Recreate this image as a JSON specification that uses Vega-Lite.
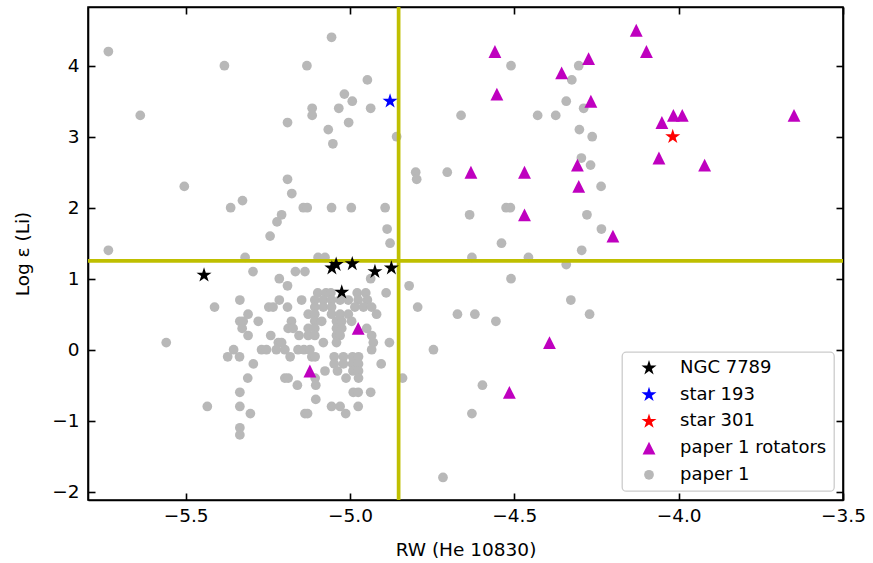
{
  "$schema": "https://vega.github.io/schema/vega-lite/v6.json",
  "width": 755,
  "height": 493,
  "autosize": "none",
  "padding": {"left": 88, "top": 7, "right": 30, "bottom": 63},
  "background": "white",
  "config": {
    "font": "DejaVu Sans",
    "view": {"stroke": "black", "strokeWidth": 1.6},
    "axis": {
      "domainColor": "black", "domainWidth": 1.6,
      "tickColor": "black", "tickWidth": 1.6, "tickSize": -7,
      "grid": false, "labelFont": "DejaVu Sans", "labelFontSize": 18.5, "labelColor": "black",
      "titleFont": "DejaVu Sans", "titleFontSize": 18.5, "titleFontWeight": "normal", "titleColor": "black",
      "labelFlush": false, "labelOverlap": false
    },
    "legend": {
      "padding": 7, "rowPadding": 8.7, "symbolOffset": 11, "labelOffset": 22,
      "labelFont": "DejaVu Sans", "labelFontSize": 18, "labelColor": "black", "labelLimit": 400,
      "fillColor": "rgba(255,255,255,0.8)", "strokeColor": "#cccccc", "strokeWidth": 1.3, "cornerRadius": 4,
      "symbolStrokeWidth": 0, "symbolOpacity": 1
    }
  },
  "data": {"values": [
    {"rw": -5.735, "li": 4.2, "s": "paper 1"}, {"rw": -5.382, "li": 4.0, "s": "paper 1"}, {"rw": -5.131, "li": 4.0, "s": "paper 1"},
    {"rw": -5.056, "li": 4.4, "s": "paper 1"}, {"rw": -4.947, "li": 3.8, "s": "paper 1"}, {"rw": -5.017, "li": 3.6, "s": "paper 1"},
    {"rw": -4.993, "li": 3.5, "s": "paper 1"}, {"rw": -5.115, "li": 3.4, "s": "paper 1"}, {"rw": -5.115, "li": 3.3, "s": "paper 1"},
    {"rw": -5.034, "li": 3.4, "s": "paper 1"}, {"rw": -4.937, "li": 3.4, "s": "paper 1"}, {"rw": -5.638, "li": 3.3, "s": "paper 1"},
    {"rw": -5.19, "li": 3.2, "s": "paper 1"}, {"rw": -5.004, "li": 3.2, "s": "paper 1"}, {"rw": -5.066, "li": 3.1, "s": "paper 1"},
    {"rw": -5.052, "li": 2.9, "s": "paper 1"}, {"rw": -4.858, "li": 3.0, "s": "paper 1"}, {"rw": -5.504, "li": 2.3, "s": "paper 1"},
    {"rw": -5.19, "li": 2.4, "s": "paper 1"}, {"rw": -5.177, "li": 2.2, "s": "paper 1"}, {"rw": -5.363, "li": 2.0, "s": "paper 1"},
    {"rw": -5.327, "li": 2.1, "s": "paper 1"}, {"rw": -5.142, "li": 2.0, "s": "paper 1"}, {"rw": -5.13, "li": 2.0, "s": "paper 1"},
    {"rw": -5.056, "li": 2.0, "s": "paper 1"}, {"rw": -4.996, "li": 2.0, "s": "paper 1"}, {"rw": -4.893, "li": 2.0, "s": "paper 1"},
    {"rw": -5.208, "li": 1.9, "s": "paper 1"}, {"rw": -5.222, "li": 1.8, "s": "paper 1"}, {"rw": -5.243, "li": 1.6, "s": "paper 1"},
    {"rw": -4.887, "li": 1.7, "s": "paper 1"}, {"rw": -4.878, "li": 1.5, "s": "paper 1"}, {"rw": -5.735, "li": 1.4, "s": "paper 1"},
    {"rw": -4.51, "li": 4.0, "s": "paper 1"}, {"rw": -4.304, "li": 4.0, "s": "paper 1"}, {"rw": -4.325, "li": 3.8, "s": "paper 1"},
    {"rw": -4.342, "li": 3.5, "s": "paper 1"}, {"rw": -4.289, "li": 3.4, "s": "paper 1"}, {"rw": -4.662, "li": 3.3, "s": "paper 1"},
    {"rw": -4.429, "li": 3.3, "s": "paper 1"}, {"rw": -4.374, "li": 3.3, "s": "paper 1"}, {"rw": -4.302, "li": 3.1, "s": "paper 1"},
    {"rw": -4.263, "li": 3.0, "s": "paper 1"}, {"rw": -4.296, "li": 2.7, "s": "paper 1"}, {"rw": -4.268, "li": 2.6, "s": "paper 1"},
    {"rw": -4.8, "li": 2.5, "s": "paper 1"}, {"rw": -4.797, "li": 2.4, "s": "paper 1"}, {"rw": -4.704, "li": 2.5, "s": "paper 1"},
    {"rw": -4.236, "li": 2.3, "s": "paper 1"}, {"rw": -4.525, "li": 2.0, "s": "paper 1"}, {"rw": -4.512, "li": 2.0, "s": "paper 1"},
    {"rw": -4.636, "li": 1.9, "s": "paper 1"}, {"rw": -4.279, "li": 1.9, "s": "paper 1"}, {"rw": -4.235, "li": 1.7, "s": "paper 1"},
    {"rw": -4.539, "li": 1.5, "s": "paper 1"}, {"rw": -4.295, "li": 1.4, "s": "paper 1"}, {"rw": -4.629, "li": 1.3, "s": "paper 1"},
    {"rw": -4.457, "li": 1.3, "s": "paper 1"}, {"rw": -4.342, "li": 1.2, "s": "paper 1"}, {"rw": -4.51, "li": 1.0, "s": "paper 1"},
    {"rw": -4.82, "li": 0.9, "s": "paper 1"}, {"rw": -4.328, "li": 0.7, "s": "paper 1"}, {"rw": -4.794, "li": 0.6, "s": "paper 1"},
    {"rw": -4.673, "li": 0.5, "s": "paper 1"}, {"rw": -4.62, "li": 0.5, "s": "paper 1"}, {"rw": -4.556, "li": 0.4, "s": "paper 1"},
    {"rw": -4.271, "li": 0.5, "s": "paper 1"}, {"rw": -4.746, "li": 0.0, "s": "paper 1"}, {"rw": -4.84, "li": -0.4, "s": "paper 1"},
    {"rw": -4.597, "li": -0.5, "s": "paper 1"}, {"rw": -4.629, "li": -0.9, "s": "paper 1"}, {"rw": -4.717, "li": -1.8, "s": "paper 1"},
    {"rw": -5.319, "li": 1.3, "s": "paper 1"}, {"rw": -5.097, "li": 1.3, "s": "paper 1"}, {"rw": -5.076, "li": 1.3, "s": "paper 1"},
    {"rw": -5.295, "li": 1.1, "s": "paper 1"}, {"rw": -5.166, "li": 1.1, "s": "paper 1"}, {"rw": -5.137, "li": 1.1, "s": "paper 1"},
    {"rw": -5.215, "li": 1.0, "s": "paper 1"}, {"rw": -4.937, "li": 1.0, "s": "paper 1"}, {"rw": -5.19, "li": 0.9, "s": "paper 1"},
    {"rw": -5.098, "li": 0.8, "s": "paper 1"}, {"rw": -5.073, "li": 0.8, "s": "paper 1"}, {"rw": -5.058, "li": 0.8, "s": "paper 1"},
    {"rw": -4.978, "li": 0.8, "s": "paper 1"}, {"rw": -4.952, "li": 0.8, "s": "paper 1"}, {"rw": -4.89, "li": 0.8, "s": "paper 1"},
    {"rw": -5.335, "li": 0.7, "s": "paper 1"}, {"rw": -5.215, "li": 0.7, "s": "paper 1"}, {"rw": -5.147, "li": 0.7, "s": "paper 1"},
    {"rw": -5.107, "li": 0.7, "s": "paper 1"}, {"rw": -5.081, "li": 0.7, "s": "paper 1"}, {"rw": -5.056, "li": 0.7, "s": "paper 1"},
    {"rw": -5.03, "li": 0.7, "s": "paper 1"}, {"rw": -5.005, "li": 0.7, "s": "paper 1"}, {"rw": -4.975, "li": 0.7, "s": "paper 1"},
    {"rw": -4.947, "li": 0.7, "s": "paper 1"},
    {"rw": -5.412, "li": 0.6, "s": "paper 1"}, {"rw": -5.247, "li": 0.6, "s": "paper 1"}, {"rw": -5.234, "li": 0.6, "s": "paper 1"},
    {"rw": -5.19, "li": 0.6, "s": "paper 1"}, {"rw": -5.107, "li": 0.6, "s": "paper 1"}, {"rw": -5.081, "li": 0.6, "s": "paper 1"},
    {"rw": -5.056, "li": 0.6, "s": "paper 1"}, {"rw": -4.985, "li": 0.6, "s": "paper 1"}, {"rw": -4.959, "li": 0.6, "s": "paper 1"},
    {"rw": -4.934, "li": 0.6, "s": "paper 1"},
    {"rw": -5.31, "li": 0.5, "s": "paper 1"}, {"rw": -5.127, "li": 0.5, "s": "paper 1"}, {"rw": -5.107, "li": 0.5, "s": "paper 1"},
    {"rw": -5.056, "li": 0.5, "s": "paper 1"}, {"rw": -5.03, "li": 0.5, "s": "paper 1"}, {"rw": -5.005, "li": 0.5, "s": "paper 1"},
    {"rw": -4.919, "li": 0.5, "s": "paper 1"},
    {"rw": -5.335, "li": 0.4, "s": "paper 1"}, {"rw": -5.325, "li": 0.4, "s": "paper 1"}, {"rw": -5.279, "li": 0.4, "s": "paper 1"},
    {"rw": -5.178, "li": 0.4, "s": "paper 1"}, {"rw": -5.107, "li": 0.4, "s": "paper 1"}, {"rw": -5.086, "li": 0.4, "s": "paper 1"},
    {"rw": -5.041, "li": 0.4, "s": "paper 1"}, {"rw": -5.025, "li": 0.4, "s": "paper 1"}, {"rw": -4.995, "li": 0.4, "s": "paper 1"},
    {"rw": -5.328, "li": 0.3, "s": "paper 1"}, {"rw": -5.188, "li": 0.3, "s": "paper 1"}, {"rw": -5.173, "li": 0.3, "s": "paper 1"},
    {"rw": -5.127, "li": 0.3, "s": "paper 1"}, {"rw": -5.107, "li": 0.3, "s": "paper 1"}, {"rw": -5.041, "li": 0.3, "s": "paper 1"},
    {"rw": -5.025, "li": 0.3, "s": "paper 1"}, {"rw": -4.949, "li": 0.3, "s": "paper 1"},
    {"rw": -5.31, "li": 0.2, "s": "paper 1"}, {"rw": -5.241, "li": 0.2, "s": "paper 1"}, {"rw": -5.155, "li": 0.2, "s": "paper 1"},
    {"rw": -5.127, "li": 0.2, "s": "paper 1"}, {"rw": -5.107, "li": 0.2, "s": "paper 1"}, {"rw": -5.041, "li": 0.2, "s": "paper 1"},
    {"rw": -5.03, "li": 0.2, "s": "paper 1"}, {"rw": -4.934, "li": 0.2, "s": "paper 1"},
    {"rw": -5.559, "li": 0.1, "s": "paper 1"}, {"rw": -5.218, "li": 0.1, "s": "paper 1"}, {"rw": -5.208, "li": 0.1, "s": "paper 1"},
    {"rw": -5.081, "li": 0.1, "s": "paper 1"}, {"rw": -5.041, "li": 0.1, "s": "paper 1"}, {"rw": -4.929, "li": 0.1, "s": "paper 1"},
    {"rw": -4.88, "li": 0.1, "s": "paper 1"},
    {"rw": -5.354, "li": 0.0, "s": "paper 1"}, {"rw": -5.269, "li": 0.0, "s": "paper 1"}, {"rw": -5.254, "li": 0.0, "s": "paper 1"},
    {"rw": -5.224, "li": 0.0, "s": "paper 1"}, {"rw": -5.198, "li": 0.0, "s": "paper 1"}, {"rw": -5.158, "li": 0.0, "s": "paper 1"},
    {"rw": -5.14, "li": 0.0, "s": "paper 1"}, {"rw": -5.122, "li": 0.0, "s": "paper 1"}, {"rw": -4.934, "li": 0.0, "s": "paper 1"},
    {"rw": -5.372, "li": -0.1, "s": "paper 1"}, {"rw": -5.336, "li": -0.1, "s": "paper 1"}, {"rw": -5.182, "li": -0.1, "s": "paper 1"},
    {"rw": -5.116, "li": -0.1, "s": "paper 1"}, {"rw": -5.106, "li": -0.1, "s": "paper 1"}, {"rw": -5.048, "li": -0.1, "s": "paper 1"},
    {"rw": -5.02, "li": -0.1, "s": "paper 1"}, {"rw": -4.992, "li": -0.1, "s": "paper 1"}, {"rw": -4.974, "li": -0.1, "s": "paper 1"},
    {"rw": -5.294, "li": -0.2, "s": "paper 1"}, {"rw": -5.048, "li": -0.2, "s": "paper 1"}, {"rw": -5.02, "li": -0.2, "s": "paper 1"},
    {"rw": -4.992, "li": -0.2, "s": "paper 1"}, {"rw": -4.974, "li": -0.2, "s": "paper 1"}, {"rw": -4.905, "li": -0.2, "s": "paper 1"},
    {"rw": -5.076, "li": -0.3, "s": "paper 1"}, {"rw": -5.038, "li": -0.3, "s": "paper 1"}, {"rw": -4.991, "li": -0.3, "s": "paper 1"},
    {"rw": -4.974, "li": -0.3, "s": "paper 1"},
    {"rw": -5.311, "li": -0.4, "s": "paper 1"}, {"rw": -5.198, "li": -0.4, "s": "paper 1"}, {"rw": -5.188, "li": -0.4, "s": "paper 1"},
    {"rw": -5.106, "li": -0.4, "s": "paper 1"}, {"rw": -5.012, "li": -0.4, "s": "paper 1"}, {"rw": -4.974, "li": -0.4, "s": "paper 1"},
    {"rw": -5.16, "li": -0.5, "s": "paper 1"}, {"rw": -5.104, "li": -0.5, "s": "paper 1"},
    {"rw": -5.335, "li": -0.6, "s": "paper 1"}, {"rw": -4.99, "li": -0.6, "s": "paper 1"}, {"rw": -4.975, "li": -0.6, "s": "paper 1"},
    {"rw": -4.937, "li": -0.6, "s": "paper 1"}, {"rw": -5.104, "li": -0.7, "s": "paper 1"},
    {"rw": -5.434, "li": -0.8, "s": "paper 1"}, {"rw": -5.335, "li": -0.8, "s": "paper 1"}, {"rw": -5.056, "li": -0.8, "s": "paper 1"},
    {"rw": -5.03, "li": -0.8, "s": "paper 1"}, {"rw": -4.975, "li": -0.8, "s": "paper 1"},
    {"rw": -5.303, "li": -0.9, "s": "paper 1"}, {"rw": -5.137, "li": -0.9, "s": "paper 1"}, {"rw": -5.129, "li": -0.9, "s": "paper 1"},
    {"rw": -5.013, "li": -0.9, "s": "paper 1"}, {"rw": -5.335, "li": -1.1, "s": "paper 1"}, {"rw": -5.335, "li": -1.2, "s": "paper 1"},
    {"rw": -4.559, "li": 4.2, "s": "paper 1 rotators"}, {"rw": -4.129, "li": 4.5, "s": "paper 1 rotators"},
    {"rw": -4.098, "li": 4.2, "s": "paper 1 rotators"}, {"rw": -4.274, "li": 4.1, "s": "paper 1 rotators"},
    {"rw": -4.356, "li": 3.9, "s": "paper 1 rotators"}, {"rw": -4.553, "li": 3.6, "s": "paper 1 rotators"},
    {"rw": -4.267, "li": 3.5, "s": "paper 1 rotators"}, {"rw": -4.051, "li": 3.2, "s": "paper 1 rotators"},
    {"rw": -4.016, "li": 3.3, "s": "paper 1 rotators"}, {"rw": -3.989, "li": 3.3, "s": "paper 1 rotators"},
    {"rw": -3.649, "li": 3.3, "s": "paper 1 rotators"}, {"rw": -4.06, "li": 2.7, "s": "paper 1 rotators"},
    {"rw": -3.921, "li": 2.6, "s": "paper 1 rotators"}, {"rw": -4.308, "li": 2.6, "s": "paper 1 rotators"},
    {"rw": -4.632, "li": 2.5, "s": "paper 1 rotators"}, {"rw": -4.469, "li": 2.5, "s": "paper 1 rotators"},
    {"rw": -4.304, "li": 2.3, "s": "paper 1 rotators"}, {"rw": -4.469, "li": 1.9, "s": "paper 1 rotators"},
    {"rw": -4.2, "li": 1.6, "s": "paper 1 rotators"}, {"rw": -5.122, "li": -0.3, "s": "paper 1 rotators"},
    {"rw": -4.975, "li": 0.3, "s": "paper 1 rotators"}, {"rw": -4.515, "li": -0.6, "s": "paper 1 rotators"},
    {"rw": -4.393, "li": 0.1, "s": "paper 1 rotators"},
    {"rw": -5.444, "li": 1.05, "s": "NGC 7789"}, {"rw": -5.055, "li": 1.15, "s": "NGC 7789"},
    {"rw": -5.042, "li": 1.2, "s": "NGC 7789"}, {"rw": -4.993, "li": 1.21, "s": "NGC 7789"},
    {"rw": -4.924, "li": 1.1, "s": "NGC 7789"}, {"rw": -4.874, "li": 1.15, "s": "NGC 7789"},
    {"rw": -5.025, "li": 0.81, "s": "NGC 7789"},
    {"rw": -4.878, "li": 3.5, "s": "star 193"},
    {"rw": -4.018, "li": 3.0, "s": "star 301"}
  ]},
  "layer": [
    {
      "transform": [{"filter": "datum.s === 'paper 1' || datum.s === 'paper 1 rotators'"}],
      "mark": {"type": "point", "filled": true, "opacity": 1, "strokeWidth": 0},
      "encoding": {
        "x": {"field": "rw", "type": "quantitative", "scale": {"domain": [-5.797, -3.5], "nice": false, "zero": false},
              "axis": {"orient": "bottom", "values": [-5.5, -5, -4.5, -4, -3.5], "format": ".1f", "labelPadding": 13,
                       "title": "RW (He 10830)", "titleY": 55, "titleBaseline": "alphabetic"}},
        "y": {"field": "li", "type": "quantitative", "scale": {"domain": [-2.117, 4.827], "nice": false, "zero": false},
              "axis": {"orient": "left", "values": [-2, -1, 0, 1, 2, 3, 4], "format": "d", "labelPadding": 16,
                       "title": "Log ε (Li)", "titleX": -66, "titleY": 246.5, "titleAngle": -90, "titleAlign": "center", "titleBaseline": "middle"}},
        "color": {"field": "s", "type": "nominal",
                  "scale": {"domain": ["NGC 7789", "star 193", "star 301", "paper 1 rotators", "paper 1"], "range": ["#000000", "#0000ff", "#ff0000", "#bf00bf", "#b8b8b8"]},
                  "legend": {"orient": "none", "legendX": 534, "legendY": 345, "title": null}},
        "shape": {"field": "s", "type": "nominal",
                  "scale": {"domain": ["NGC 7789", "star 193", "star 301", "paper 1 rotators", "paper 1"],
                            "range": ["M0,-1L0.2245,-0.309L0.9511,-0.309L0.3633,0.118L0.5878,0.809L0,0.382L-0.5878,0.809L-0.3633,0.118L-0.9511,-0.309L-0.2245,-0.309Z",
                                      "M0,-1L0.2245,-0.309L0.9511,-0.309L0.3633,0.118L0.5878,0.809L0,0.382L-0.5878,0.809L-0.3633,0.118L-0.9511,-0.309L-0.2245,-0.309Z",
                                      "M0,-1L0.2245,-0.309L0.9511,-0.309L0.3633,0.118L0.5878,0.809L0,0.382L-0.5878,0.809L-0.3633,0.118L-0.9511,-0.309L-0.2245,-0.309Z",
                                      "M0,-1L1,1L-1,1Z", "circle"]},
                  "legend": {"orient": "none", "legendX": 534, "legendY": 345, "title": null}},
        "size": {"field": "s", "type": "nominal",
                 "scale": {"type": "ordinal", "domain": ["NGC 7789", "star 193", "star 301", "paper 1 rotators", "paper 1"], "range": [250, 250, 250, 165, 95]},
                 "legend": {"orient": "none", "legendX": 534, "legendY": 345, "title": null}}
      }
    },
    {
      "data": {"values": [{"rw": -4.852}]},
      "mark": {"type": "rule", "color": "#bfbf00", "strokeWidth": 3.7},
      "encoding": {"x": {"field": "rw", "type": "quantitative", "scale": {"domain": [-5.797, -3.5], "nice": false, "zero": false}, "axis": null}}
    },
    {
      "data": {"values": [{"li": 1.25}]},
      "mark": {"type": "rule", "color": "#bfbf00", "strokeWidth": 3.7},
      "encoding": {"y": {"field": "li", "type": "quantitative", "scale": {"domain": [-2.117, 4.827], "nice": false, "zero": false}, "axis": null}}
    },
    {
      "transform": [{"filter": "datum.s === 'NGC 7789' || datum.s === 'star 193' || datum.s === 'star 301'"}],
      "mark": {"type": "point", "filled": true, "opacity": 1, "strokeWidth": 0},
      "encoding": {
        "x": {"field": "rw", "type": "quantitative", "scale": {"domain": [-5.797, -3.5], "nice": false, "zero": false},
              "axis": {"orient": "top", "values": [-5.5, -5, -4.5, -4, -3.5], "labels": false, "title": null}},
        "y": {"field": "li", "type": "quantitative", "scale": {"domain": [-2.117, 4.827], "nice": false, "zero": false},
              "axis": {"orient": "right", "values": [-2, -1, 0, 1, 2, 3, 4], "labels": false, "title": null}},
        "color": {"field": "s", "type": "nominal",
                  "scale": {"domain": ["NGC 7789", "star 193", "star 301", "paper 1 rotators", "paper 1"], "range": ["#000000", "#0000ff", "#ff0000", "#bf00bf", "#b8b8b8"]},
                  "legend": {"orient": "none", "legendX": 534, "legendY": 345, "title": null}},
        "shape": {"field": "s", "type": "nominal",
                  "scale": {"domain": ["NGC 7789", "star 193", "star 301", "paper 1 rotators", "paper 1"],
                            "range": ["M0,-1L0.2245,-0.309L0.9511,-0.309L0.3633,0.118L0.5878,0.809L0,0.382L-0.5878,0.809L-0.3633,0.118L-0.9511,-0.309L-0.2245,-0.309Z",
                                      "M0,-1L0.2245,-0.309L0.9511,-0.309L0.3633,0.118L0.5878,0.809L0,0.382L-0.5878,0.809L-0.3633,0.118L-0.9511,-0.309L-0.2245,-0.309Z",
                                      "M0,-1L0.2245,-0.309L0.9511,-0.309L0.3633,0.118L0.5878,0.809L0,0.382L-0.5878,0.809L-0.3633,0.118L-0.9511,-0.309L-0.2245,-0.309Z",
                                      "M0,-1L1,1L-1,1Z", "circle"]},
                  "legend": {"orient": "none", "legendX": 534, "legendY": 345, "title": null}},
        "size": {"field": "s", "type": "nominal",
                 "scale": {"type": "ordinal", "domain": ["NGC 7789", "star 193", "star 301", "paper 1 rotators", "paper 1"], "range": [250, 250, 250, 165, 95]},
                 "legend": {"orient": "none", "legendX": 534, "legendY": 345, "title": null}}
      }
    }
  ],
  "resolve": {"axis": {"x": "independent", "y": "independent"}}
}
